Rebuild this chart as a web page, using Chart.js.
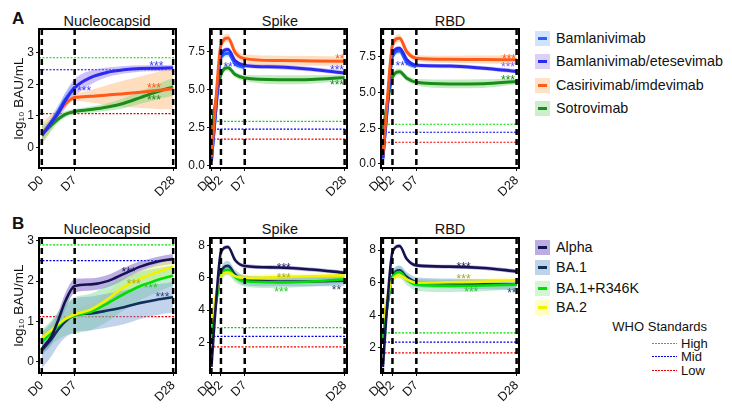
<!DOCTYPE html>
<html>
<head>
<meta charset="utf-8">
<script src="https://cdn.jsdelivr.net/npm/chart.js@4.4.0/dist/chart.umd.min.js"></script>
<style>
body { margin: 0; background: #fff; font-family: "Liberation Sans", Arial, sans-serif; }
#wrap { position: relative; width: 732px; height: 410px; overflow: hidden; background: #fff; }
#wrap canvas { position: absolute; }
.lbl { position: absolute; color: #111; white-space: nowrap; }
.letter { font-weight: bold; font-size: 17px; line-height: 20px; }
.title { font-size: 14.5px; line-height: 18px; transform: translateX(-50%); }
.leg { position: absolute; left: 535px; font-size: 14.3px; line-height: 18px; height: 18px; padding-left: 21px; color: #111; white-space: nowrap; }
.sw { position: absolute; left: 0; top: 1.5px; width: 15px; height: 15px; }
.sw i { position: absolute; left: 3px; top: 6px; width: 9px; height: 3px; }
.who { position: absolute; font-size: 13px; line-height: 14px; color: #111; white-space: nowrap; }
.wholine { position: absolute; left: 652px; width: 25px; height: 1.4px; }
</style>
</head>
<body>
<div id="wrap">
  <div class="lbl letter" style="left:12px;top:9px">A</div>
  <div class="lbl letter" style="left:12px;top:214px">B</div>
  <div class="lbl title" style="left:107px;top:12px">Nucleocapsid</div>
  <div class="lbl title" style="left:280px;top:12px">Spike</div>
  <div class="lbl title" style="left:450px;top:12px">RBD</div>
  <div class="lbl title" style="left:107px;top:220px">Nucleocapsid</div>
  <div class="lbl title" style="left:280px;top:220px">Spike</div>
  <div class="lbl title" style="left:450px;top:220px">RBD</div>

  <div class="leg" style="top:29px"><span class="sw" style="background:#d3e2ff"><i style="background:#1f63ff"></i></span>Bamlanivimab</div>
  <div class="leg" style="top:52px"><span class="sw" style="background:#dccff8"><i style="background:#2b2bf0"></i></span>Bamlanivimab/etesevimab</div>
  <div class="leg" style="top:76px"><span class="sw" style="background:#ffe2c6"><i style="background:#ff5a1a"></i></span>Casirivimab/imdevimab</div>
  <div class="leg" style="top:99px"><span class="sw" style="background:#cdeecd"><i style="background:#1a8c1a"></i></span>Sotrovimab</div>

  <div class="leg" style="top:238px"><span class="sw" style="background:#bcaee2"><i style="background:#141450"></i></span>Alpha</div>
  <div class="leg" style="top:258px"><span class="sw" style="background:#bdd3e8"><i style="background:#10305a"></i></span>BA.1</div>
  <div class="leg" style="top:279px"><span class="sw" style="background:#d2f7d2"><i style="background:#00e000"></i></span>BA.1+R346K</div>
  <div class="leg" style="top:298px"><span class="sw" style="background:#ffffc4"><i style="background:#f2f200"></i></span>BA.2</div>

  <div class="who" style="right:25px;top:320px">WHO Standards</div>
  <div class="wholine" style="top:343px;background:repeating-linear-gradient(to right,#00dd00 0 2px,transparent 2px 3px)"></div>
  <div class="who" style="left:681px;top:337px">High</div>
  <div class="wholine" style="top:356px;background:repeating-linear-gradient(to right,#0000ee 0 2px,transparent 2px 3px)"></div>
  <div class="who" style="left:681px;top:350px">Mid</div>
  <div class="wholine" style="top:370px;background:repeating-linear-gradient(to right,#ee0000 0 2px,transparent 2px 3px)"></div>
  <div class="who" style="left:681px;top:364px">Low</div>
</div>
<script>
// sampling days of the fitted curves
const nucDays = [0, 2, 3.5, 5, 7, 10.5, 14, 17.5, 21, 24.5, 28];
const spkDays = [0, 1, 2, 3.5, 5, 7, 14, 21, 28];
const nucTicksX = [0, 7, 28];
const spkTicksX = [0, 2, 7, 28];
const nucTicksY = [0, 1, 2, 3];
const spkTicksYA = [0, 2.5, 5, 7.5];
const spkTicksYB = [2, 4, 6, 8];

// A - Nucleocapsid (log10 BAU/mL)
const nucA_bam = [0.38, 0.8, 1.15, 1.52, 1.92];
const nucA_bam_ci = [0.15, 0.18, 0.2, 0.2, 0.18];
const nucA_bamEte = [0.38, 0.78, 1.08, 1.48, 1.89, 2.22, 2.38, 2.46, 2.5, 2.51, 2.52];
const nucA_bamEte_ci = [0.12, 0.15, 0.2, 0.25, 0.28, 0.22, 0.15, 0.12, 0.1, 0.1, 0.1];
const nucA_cas = [0.42, 0.8, 1.1, 1.38, 1.58, 1.62, 1.66, 1.7, 1.75, 1.8, 1.86];
const nucA_cas_ci = [0.35, 0.25, 0.15, 0.1, 0.1, 0.2, 0.32, 0.42, 0.5, 0.58, 0.66];
const nucA_sot = [0.41, 0.7, 0.9, 1.05, 1.14, 1.2, 1.28, 1.4, 1.58, 1.76, 1.92];
const nucA_sot_ci = [0.28, 0.18, 0.12, 0.1, 0.08, 0.1, 0.12, 0.16, 0.2, 0.24, 0.28];

// A - Spike
const spkA_bam = [0.3, 3.9, 7.1, 7.4, 6.7, 6.45];
const spkA_bam_ci = [0.2, 0.22, 0.22, 0.22, 0.22, 0.2];
const spkA_bamEte = [0.3, 4.0, 7.3, 7.65, 6.9, 6.6, 6.5, 6.35, 6.1];
const spkA_bamEte_ci = [0.15, 0.15, 0.15, 0.15, 0.15, 0.15, 0.15, 0.15, 0.15];
const spkA_cas = [0.6, 4.6, 7.95, 8.4, 7.45, 7.05, 6.92, 6.9, 6.88];
const spkA_cas_ci = [0.2, 0.3, 0.3, 0.28, 0.28, 0.28, 0.32, 0.32, 0.3];
const spkA_sot = [2.4, 4.4, 6.0, 6.45, 6.0, 5.77, 5.66, 5.68, 5.81];
const spkA_sot_ci = [0.2, 0.25, 0.25, 0.22, 0.2, 0.2, 0.3, 0.28, 0.18];

// A - RBD
const rbdA_bam = [0.4, 4.2, 7.5, 7.9, 7.1, 6.8];
const rbdA_bam_ci = [0.2, 0.22, 0.22, 0.22, 0.22, 0.2];
const rbdA_bamEte = [0.4, 4.3, 7.7, 8.1, 7.3, 6.9, 6.85, 6.7, 6.47];
const rbdA_bamEte_ci = [0.15, 0.15, 0.15, 0.15, 0.15, 0.15, 0.15, 0.15, 0.15];
const rbdA_cas = [0.6, 4.8, 8.3, 8.8, 7.85, 7.4, 7.32, 7.3, 7.29];
const rbdA_cas_ci = [0.2, 0.3, 0.3, 0.28, 0.25, 0.22, 0.25, 0.28, 0.3];
const rbdA_sot = [2.38, 4.4, 6.05, 6.45, 6.0, 5.72, 5.6, 5.62, 5.77];
const rbdA_sot_ci = [0.2, 0.25, 0.25, 0.22, 0.2, 0.22, 0.3, 0.3, 0.2];

// B - Nucleocapsid
const nucB_alpha = [0.32, 0.62, 1.03, 1.5, 1.88, 1.92, 2.0, 2.18, 2.36, 2.48, 2.55];
const nucB_alpha_ci = [0.15, 0.2, 0.2, 0.2, 0.17, 0.15, 0.15, 0.15, 0.13, 0.12, 0.12];
const nucB_ba1 = [0.28, 0.55, 0.8, 1.0, 1.15, 1.2, 1.27, 1.35, 1.46, 1.54, 1.6];
const nucB_ba1_ci = [0.45, 0.42, 0.4, 0.4, 0.42, 0.42, 0.42, 0.42, 0.4, 0.38, 0.38];
const nucB_r346 = [0.49, 0.72, 0.9, 1.05, 1.15, 1.24, 1.45, 1.68, 1.88, 2.02, 2.14];
const nucB_r346_ci = [0.3, 0.3, 0.35, 0.4, 0.45, 0.45, 0.45, 0.4, 0.35, 0.3, 0.25];
const nucB_ba2 = [0.59, 0.78, 0.93, 1.06, 1.17, 1.3, 1.55, 1.85, 2.06, 2.22, 2.35];
const nucB_ba2_ci = [0.15, 0.15, 0.15, 0.15, 0.15, 0.15, 0.18, 0.2, 0.2, 0.2, 0.2];

// B - Spike
const spkB_alpha = [0.47, 4.6, 7.6, 7.92, 7.1, 6.74, 6.65, 6.52, 6.32];
const spkB_alpha_ci = [0.12, 0.12, 0.12, 0.12, 0.12, 0.12, 0.12, 0.12, 0.12];
const spkB_ba1 = [2.3, 4.6, 6.3, 6.75, 6.2, 5.85, 5.78, 5.78, 5.82];
const spkB_ba1_ci = [0.3, 0.3, 0.3, 0.3, 0.3, 0.3, 0.3, 0.3, 0.3];
const spkB_r346 = [2.22, 4.5, 6.1, 6.5, 6.05, 5.79, 5.72, 5.78, 5.92];
const spkB_r346_ci = [0.32, 0.32, 0.32, 0.32, 0.32, 0.32, 0.35, 0.32, 0.3];
const spkB_ba2 = [3.26, 5.0, 6.1, 6.35, 6.1, 6.0, 6.05, 6.1, 6.16];
const spkB_ba2_ci = [0.2, 0.2, 0.2, 0.2, 0.2, 0.2, 0.2, 0.2, 0.2];

// B - RBD
const rbdB_alpha = [0.81, 5.0, 7.88, 8.25, 7.45, 7.06, 6.98, 6.9, 6.69];
const rbdB_alpha_ci = [0.12, 0.12, 0.12, 0.12, 0.12, 0.12, 0.12, 0.12, 0.12];
const rbdB_ba1 = [2.35, 4.7, 6.35, 6.75, 6.35, 6.03, 5.95, 5.9, 5.87];
const rbdB_ba1_ci = [0.3, 0.3, 0.3, 0.3, 0.3, 0.3, 0.3, 0.3, 0.3];
const rbdB_r346 = [2.55, 4.8, 6.3, 6.65, 6.2, 5.87, 5.8, 5.82, 5.87];
const rbdB_r346_ci = [0.35, 0.35, 0.35, 0.35, 0.35, 0.35, 0.38, 0.35, 0.3];
const rbdB_ba2 = [3.58, 5.2, 6.2, 6.45, 6.2, 6.0, 6.02, 6.06, 6.14];
const rbdB_ba2_ci = [0.2, 0.2, 0.2, 0.2, 0.2, 0.2, 0.2, 0.2, 0.2];

// WHO standards: high, mid, low
const whoNucA = [2.84, 2.46, 1.07];
const whoSpkA = [2.92, 2.41, 1.75];
const whoRbdA = [2.78, 2.22, 1.52];
const whoNucB = [2.9, 2.51, 1.12];
const whoSpkB = [2.91, 2.37, 1.71];
const whoRbdB = [2.92, 2.35, 1.69];

// significance marks [day, value, text, series]
const starsNucA = [[9.0, 1.85, '***', 'bamEte'], [24.4, 2.64, '***', 'bamEte'], [23.9, 1.95, '***', 'cas'], [23.9, 1.57, '***', 'sot']];
const starsSpkA = [[4.0, 6.64, '***', 'bamEte'], [27.0, 7.17, '**', 'cas'], [26.4, 6.45, '***', 'bamEte'], [26.4, 5.46, '***', 'sot']];
const starsRbdA = [[4.1, 7.0, '***', 'bamEte'], [26.4, 7.5, '***', 'cas'], [26.2, 6.94, '***', 'purple'], [26.2, 6.06, '***', 'sot']];
const starsNucB = [[18.5, 2.29, '***', 'alpha'], [19.6, 1.98, '***', 'ba2'], [23.2, 1.89, '***', 'r346'], [25.7, 1.67, '***', 'ba1']];
const starsSpkB = [[15.2, 6.78, '***', 'alpha'], [15.2, 6.16, '***', 'ba2'], [14.7, 5.29, '***', 'r346'], [26.3, 5.37, '**', 'ba1']];
const starsRbdB = [[16.9, 7.1, '***', 'alpha'], [16.9, 6.39, '***', 'ba2'], [18.5, 5.59, '***', 'r346'], [27.0, 5.53, '**', 'ba1']];

const colors = {
  bam: { line: '#1f63ff', band: 'rgba(120,165,255,0.35)' },
  bamEte: { line: '#2b2bf0', band: 'rgba(150,120,240,0.45)' },
  cas: { line: '#ff5a1a', band: 'rgba(255,190,130,0.5)' },
  sot: { line: '#1a8c1a', band: 'rgba(120,210,120,0.45)' },
  alpha: { line: '#141450', band: 'rgba(125,95,200,0.5)' },
  ba1: { line: '#10305a', band: 'rgba(120,160,210,0.45)' },
  r346: { line: '#00e000', band: 'rgba(100,215,130,0.4)' },
  ba2: { line: '#f2f200', band: 'rgba(255,255,140,0.5)' }
};
const starColors = { bam: '#1f63ff', bamEte: '#3b3bff', purple: '#8a5cff', cas: '#ff5a1a', sot: '#1a8c1a',
  alpha: '#1a1a5c', ba1: '#2b4a78', r346: '#22cc22', ba2: '#a8a82a' };
const whoColors = ['#00dd00', '#0000ee', '#ee0000'];

Chart.defaults.font.family = '"Liberation Sans", Arial, sans-serif';
Chart.defaults.color = '#111';

function decor(cfg) {
  return {
    id: 'decor',
    beforeDatasetsDraw(chart) {
      const { ctx, chartArea: a, scales: { y } } = chart;
      ctx.save();
      ctx.lineWidth = 1.2;
      ctx.setLineDash([2, 1.5]);
      cfg.who.forEach((v, i) => {
        const py = y.getPixelForValue(v);
        ctx.strokeStyle = whoColors[i];
        ctx.beginPath(); ctx.moveTo(a.left, py); ctx.lineTo(a.right, py); ctx.stroke();
      });
      ctx.restore();
    },
    afterDatasetsDraw(chart) {
      const { ctx, chartArea: a, scales: { x, y } } = chart;
      ctx.save();
      ctx.strokeStyle = '#000';
      ctx.lineWidth = 2.5;
      ctx.setLineDash([6, 4]);
      cfg.xticks.forEach(d => {
        const px = x.getPixelForValue(d);
        ctx.beginPath(); ctx.moveTo(px, a.top); ctx.lineTo(px, a.bottom); ctx.stroke();
      });
      ctx.setLineDash([]);
      ctx.font = '12px "Liberation Sans", Arial, sans-serif';
      ctx.textAlign = 'center';
      ctx.textBaseline = 'middle';
      cfg.stars.forEach(s => {
        ctx.fillStyle = starColors[s[3]];
        ctx.fillText(s[2], x.getPixelForValue(s[0]), y.getPixelForValue(s[1]) + 3);
      });
      ctx.restore();
    },
    afterDraw(chart) {
      const { ctx, chartArea: a } = chart;
      ctx.save();
      ctx.strokeStyle = '#000';
      ctx.lineWidth = 2;
      ctx.strokeRect(a.left, a.top, a.right - a.left, a.bottom - a.top);
      ctx.restore();
    }
  };
}

function panel(cfg) {
  const canvas = document.createElement('canvas');
  canvas.width = cfg.w;
  canvas.height = cfg.h;
  canvas.style.left = cfg.left + 'px';
  canvas.style.top = cfg.top + 'px';
  document.getElementById('wrap').appendChild(canvas);

  const datasets = [];
  const pts = (s, sgn) => s.vals.map((v, i) => ({ x: cfg.days[i], y: v + sgn * s.ci[i] }));
  cfg.series.forEach((s, k) => {
    datasets.push({ data: pts(s, 1), fill: '+1', backgroundColor: colors[s.key].band,
      borderColor: 'transparent', borderWidth: 0, pointRadius: 0, order: 20 + k });
    datasets.push({ data: pts(s, -1), fill: false, borderColor: 'transparent', borderWidth: 0, pointRadius: 0, order: 20 + k });
  });
  cfg.series.forEach((s, k) => {
    datasets.push({ data: pts(s, 0), fill: false, borderColor: colors[s.key].line,
      borderWidth: cfg.lw, pointRadius: 0, order: 10 - k });
  });

  new Chart(canvas, {
    type: 'line',
    data: { datasets },
    options: {
      responsive: false,
      animation: false,
      devicePixelRatio: 1,
      layout: { padding: { top: cfg.padTop, right: cfg.padRight, left: 0, bottom: 0 } },
      elements: { line: { cubicInterpolationMode: 'monotone' } },
      plugins: { legend: { display: false }, tooltip: { enabled: false } },
      scales: {
        x: {
          type: 'linear', min: cfg.xmin, max: cfg.xmax,
          afterBuildTicks: s => { s.ticks = cfg.xticks.map(v => ({ value: v })); },
          afterFit: s => { s.height = cfg.xh; s.paddingLeft = 0; s.paddingRight = 0; },
          ticks: { callback: v => 'D' + v, minRotation: 45, maxRotation: 45, autoSkip: false,
            font: { size: 12.5 }, color: '#111', padding: 2 },
          grid: { display: true, drawOnChartArea: false, tickLength: 3, color: '#111' },
          border: { display: false }
        },
        y: {
          min: cfg.ymin, max: cfg.ymax,
          afterBuildTicks: s => { s.ticks = cfg.yticks.map(v => ({ value: v })); },
          afterFit: s => { s.width = cfg.yw; s.paddingTop = 0; s.paddingBottom = 0; },
          ticks: { callback: v => v.toFixed(cfg.dec), font: { size: 12 }, color: '#111', padding: 2 },
          grid: { display: true, drawOnChartArea: false, tickLength: 3, color: '#111' },
          border: { display: false },
          title: { display: !!cfg.ytitle, text: cfg.ytitle || '', font: { size: 13.5 }, color: '#111',
            padding: { top: 11, bottom: 0 } }
        }
      }
    },
    plugins: [decor(cfg)]
  });
}

const rowA = { top: 0, h: 200, padTop: 29, xh: 32, lw: 3 };
const rowB = { top: 200, h: 210, padTop: 38, xh: 37, lw: 2.6 };
const col1 = { left: 0, w: 182, yw: 39, padRight: 6, xmin: -0.6, xmax: 28.6 };
const col2 = { left: 182, w: 168, yw: 28, padRight: 3, xmin: -0.3, xmax: 28.5 };
const col3 = { left: 352, w: 170, yw: 29, padRight: 3, xmin: -0.4, xmax: 28.5 };
const yTitle = 'log\u2081\u2080 BAU/mL';

panel(Object.assign({}, rowA, col1, {
  days: nucDays, xticks: nucTicksX, yticks: nucTicksY, dec: 0, ymin: -0.65, ymax: 3.75, ytitle: yTitle,
  who: whoNucA, stars: starsNucA,
  series: [
    { key: 'sot', vals: nucA_sot, ci: nucA_sot_ci },
    { key: 'cas', vals: nucA_cas, ci: nucA_cas_ci },
    { key: 'bam', vals: nucA_bam, ci: nucA_bam_ci },
    { key: 'bamEte', vals: nucA_bamEte, ci: nucA_bamEte_ci }
  ]
}));
panel(Object.assign({}, rowA, col2, {
  days: spkDays, xticks: spkTicksX, yticks: spkTicksYA, dec: 1, ymin: -0.15, ymax: 9.0,
  who: whoSpkA, stars: starsSpkA,
  series: [
    { key: 'sot', vals: spkA_sot, ci: spkA_sot_ci },
    { key: 'bam', vals: spkA_bam, ci: spkA_bam_ci },
    { key: 'bamEte', vals: spkA_bamEte, ci: spkA_bamEte_ci },
    { key: 'cas', vals: spkA_cas, ci: spkA_cas_ci }
  ]
}));
panel(Object.assign({}, rowA, col3, {
  days: spkDays, xticks: spkTicksX, yticks: spkTicksYA, dec: 1, ymin: -0.28, ymax: 9.44,
  who: whoRbdA, stars: starsRbdA,
  series: [
    { key: 'sot', vals: rbdA_sot, ci: rbdA_sot_ci },
    { key: 'bam', vals: rbdA_bam, ci: rbdA_bam_ci },
    { key: 'bamEte', vals: rbdA_bamEte, ci: rbdA_bamEte_ci },
    { key: 'cas', vals: rbdA_cas, ci: rbdA_cas_ci }
  ]
}));
panel(Object.assign({}, rowB, col1, {
  days: nucDays, xticks: nucTicksX, yticks: nucTicksY, dec: 0, ymin: -0.28, ymax: 3.07, ytitle: yTitle,
  who: whoNucB, stars: starsNucB,
  series: [
    { key: 'ba1', vals: nucB_ba1, ci: nucB_ba1_ci },
    { key: 'r346', vals: nucB_r346, ci: nucB_r346_ci },
    { key: 'ba2', vals: nucB_ba2, ci: nucB_ba2_ci },
    { key: 'alpha', vals: nucB_alpha, ci: nucB_alpha_ci }
  ]
}));
panel(Object.assign({}, rowB, col2, {
  days: spkDays, xticks: spkTicksX, yticks: spkTicksYB, dec: 0, ymin: 0.09, ymax: 8.48,
  who: whoSpkB, stars: starsSpkB,
  series: [
    { key: 'ba1', vals: spkB_ba1, ci: spkB_ba1_ci },
    { key: 'r346', vals: spkB_r346, ci: spkB_r346_ci },
    { key: 'ba2', vals: spkB_ba2, ci: spkB_ba2_ci },
    { key: 'alpha', vals: spkB_alpha, ci: spkB_alpha_ci }
  ]
}));
panel(Object.assign({}, rowB, col3, {
  days: spkDays, xticks: spkTicksX, yticks: spkTicksYB, dec: 0, ymin: 0.45, ymax: 8.74,
  who: whoRbdB, stars: starsRbdB,
  series: [
    { key: 'ba1', vals: rbdB_ba1, ci: rbdB_ba1_ci },
    { key: 'r346', vals: rbdB_r346, ci: rbdB_r346_ci },
    { key: 'ba2', vals: rbdB_ba2, ci: rbdB_ba2_ci },
    { key: 'alpha', vals: rbdB_alpha, ci: rbdB_alpha_ci }
  ]
}));
</script>
</body>
</html>
